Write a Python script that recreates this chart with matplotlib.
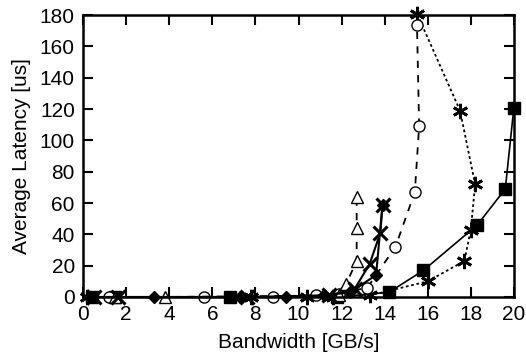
import matplotlib
matplotlib.use('Agg')
import matplotlib.pyplot as plt

plt.rcParams['font.family'] = ['Liberation Sans', 'DejaVu Sans']

# series: (bandwidth GB/s, average latency us)
sq_x = [0.4, 1.5, 6.8, 11.8, 14.2, 15.8, 18.3, 19.6, 20.0]
sq_y = [0, 0, 0, 0, 3, 17, 46, 69, 121]

ast_x = [0.2, 7.8, 10.4, 11.6, 13.3, 16.0, 17.7, 18.0, 18.2, 17.5, 15.5]
ast_y = [0, 0, 0, 0, 1, 10, 23, 43, 72, 119, 181]

circ_x = [1.2, 5.6, 8.8, 10.8, 11.9, 13.2, 14.5, 15.4, 15.6, 15.5]
circ_y = [0, 0, 0, 1, 2, 6, 32, 67, 109, 174]

tri_x = [1.5, 3.8, 11.9, 12.2, 12.7, 12.7, 12.7]
tri_y = [0, 0, 1, 8, 23, 44, 64]

dia_x = [0.3, 3.3, 7.3, 9.4, 11.2, 12.4, 13.6, 13.9]
dia_y = [0, 0, 0, 0, 1, 3, 14, 59]

x_x = [0.5, 1.6, 7.6, 11.4, 12.6, 13.3, 13.8, 13.9]
x_y = [0, 0, 0, 1, 5, 21, 41, 59]

fig = plt.figure(figsize=(5.26, 3.6), dpi=100)
ax = fig.add_axes([0.158, 0.175, 0.819, 0.783])

ax.plot(sq_x, sq_y, color='black', lw=1.2, marker='s', ms=9, mfc='black', clip_on=False)
ax.plot(ast_x, ast_y, color='black', lw=1.3, ls=(0, (1.5, 1.5)), marker=(6, 2, 0), ms=11, mew=2, clip_on=False)
ax.plot(circ_x, circ_y, color='black', lw=1.3, ls=(0, (4, 4)), marker='o', ms=8, mfc='white', clip_on=False)
ax.plot(tri_x, tri_y, color='black', lw=1.3, ls=(0, (4, 4)), marker='^', ms=8, mfc='white', clip_on=False)
ax.plot(dia_x, dia_y, color='black', lw=1.5, marker='D', ms=6, mfc='black', clip_on=False)
ax.plot(x_x, x_y, color='black', lw=1.5, marker='x', ms=10, mew=2.2, clip_on=False)

ax.set_xlim(0, 20)
ax.set_ylim(0, 180)
ax.set_xticks(range(0, 21, 2))
ax.set_yticks(range(0, 181, 20))
ax.tick_params(direction='in', length=7, width=1.5, top=True, right=True, labelsize=15, pad=6)
for s in ax.spines.values():
    s.set_linewidth(1.8)
ax.set_xlabel('Bandwidth [GB/s]', fontsize=15, labelpad=6)
ax.set_ylabel('Average Latency [us]', fontsize=15, labelpad=6)

fig.savefig('out.png', dpi=100)
